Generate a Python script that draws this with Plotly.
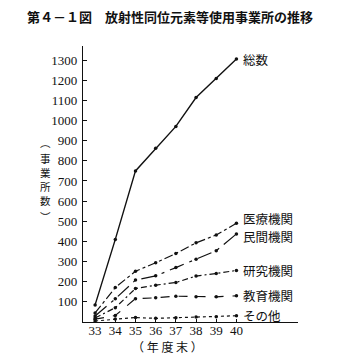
import plotly.graph_objects as go

# 年度末 (昭和)
years = [33, 34, 35, 36, 37, 38, 39, 40]

total    = [85, 410, 750, 863, 971, 1114, 1209, 1305]   # 総数
medical  = [45, 171, 252, 294, 340, 393, 432, 490]      # 医療機関
private  = [30, 115, 208, 229, 270, 312, 354, 437]      # 民間機関
research = [20, 71, 166, 183, 196, 228, 241, 256]       # 研究機関
educ     = [14, 32, 116, 120, 128, 125, 125, 130]       # 教育機関
other    = [5, 15, 22, 18, 21, 25, 26, 31]              # その他

series = [
    ("総数", total, "solid", 0),
    ("医療機関", medical, "dashdot", 5),
    ("民間機関", private, "longdashdot", -3),
    ("研究機関", research, "6px,3px,2px,3px", 0),
    ("教育機関", educ, "dash", 0),
    ("その他", other, "dot", 0),
]

y_ticks = list(range(100, 1400, 100))

CJK = "Noto Sans CJK JP"
SERIF = "Liberation Serif"

W, H = 338, 364
ML, MR, MT, MB = 83, 40, 46, 42
pw, ph = W - ML - MR, H - MT - MB


def px_x(x):
    return (x - ML) / pw


def px_y(y):
    return (H - MB - y) / ph


fig = go.Figure()
for name, vals, dash, _ in series:
    fig.add_trace(go.Scatter(
        x=years, y=vals, mode="lines+markers", name=name,
        line=dict(color="#111111", width=1.4 if dash == "solid" else 1.2, dash=dash),
        marker=dict(color="#111111", size=3.5),
        showlegend=False,
    ))

annotations = []
for name, vals, _, ys in series:
    annotations.append(dict(
        x=years[-1], y=vals[-1], xref="x", yref="y", text=name,
        showarrow=False, xanchor="left", yanchor="middle", xshift=5, yshift=ys,
        font=dict(family=CJK, size=12.5, color="#111111"),
    ))

# 図題
annotations.append(dict(
    x=px_x(170), y=px_y(17), xref="paper", yref="paper",
    text="<b>第４－１図　放射性同位元素等使用事業所の推移</b>",
    showarrow=False, xanchor="center", yanchor="middle",
    font=dict(family=CJK, size=13, color="#111111"),
))
# 縦書きの軸タイトル (一字ずつ配置)
for ch, yy in zip("︵事業所数︶", [142, 158, 172, 186, 200, 216]):
    annotations.append(dict(
        x=px_x(45), y=px_y(yy), xref="paper", yref="paper", text=ch,
        showarrow=False, xanchor="center", yanchor="middle",
        font=dict(family=CJK, size=10.5, color="#111111"),
    ))
# 横軸タイトル
annotations.append(dict(
    x=px_x(167), y=px_y(346), xref="paper", yref="paper", text="（ 年 度 末 ）",
    showarrow=False, xanchor="center", yanchor="middle",
    font=dict(family=CJK, size=12, color="#111111"),
))

fig.update_layout(
    width=W, height=H,
    margin=dict(l=ML, r=MR, t=MT, b=MB),
    paper_bgcolor="white", plot_bgcolor="white",
    annotations=annotations,
    xaxis=dict(
        range=[32.4, 43.05], tickvals=years, ticktext=[str(y) for y in years],
        showgrid=False, zeroline=False, showline=True, linecolor="#111111", linewidth=1.2,
        ticks="inside", ticklen=3, tickcolor="#111111", ticklabelstandoff=-4,
        tickfont=dict(family=SERIF, size=13, color="#111111"),
    ),
    yaxis=dict(
        range=[0, 1370], tickvals=y_ticks, ticktext=[str(v) for v in y_ticks],
        showgrid=False, zeroline=False, showline=True, linecolor="#111111", linewidth=1.2,
        ticks="inside", ticklen=4, tickcolor="#111111", ticklabelstandoff=2,
        tickfont=dict(family=SERIF, size=13, color="#111111"),
    ),
)

fig.write_html("out.html")
